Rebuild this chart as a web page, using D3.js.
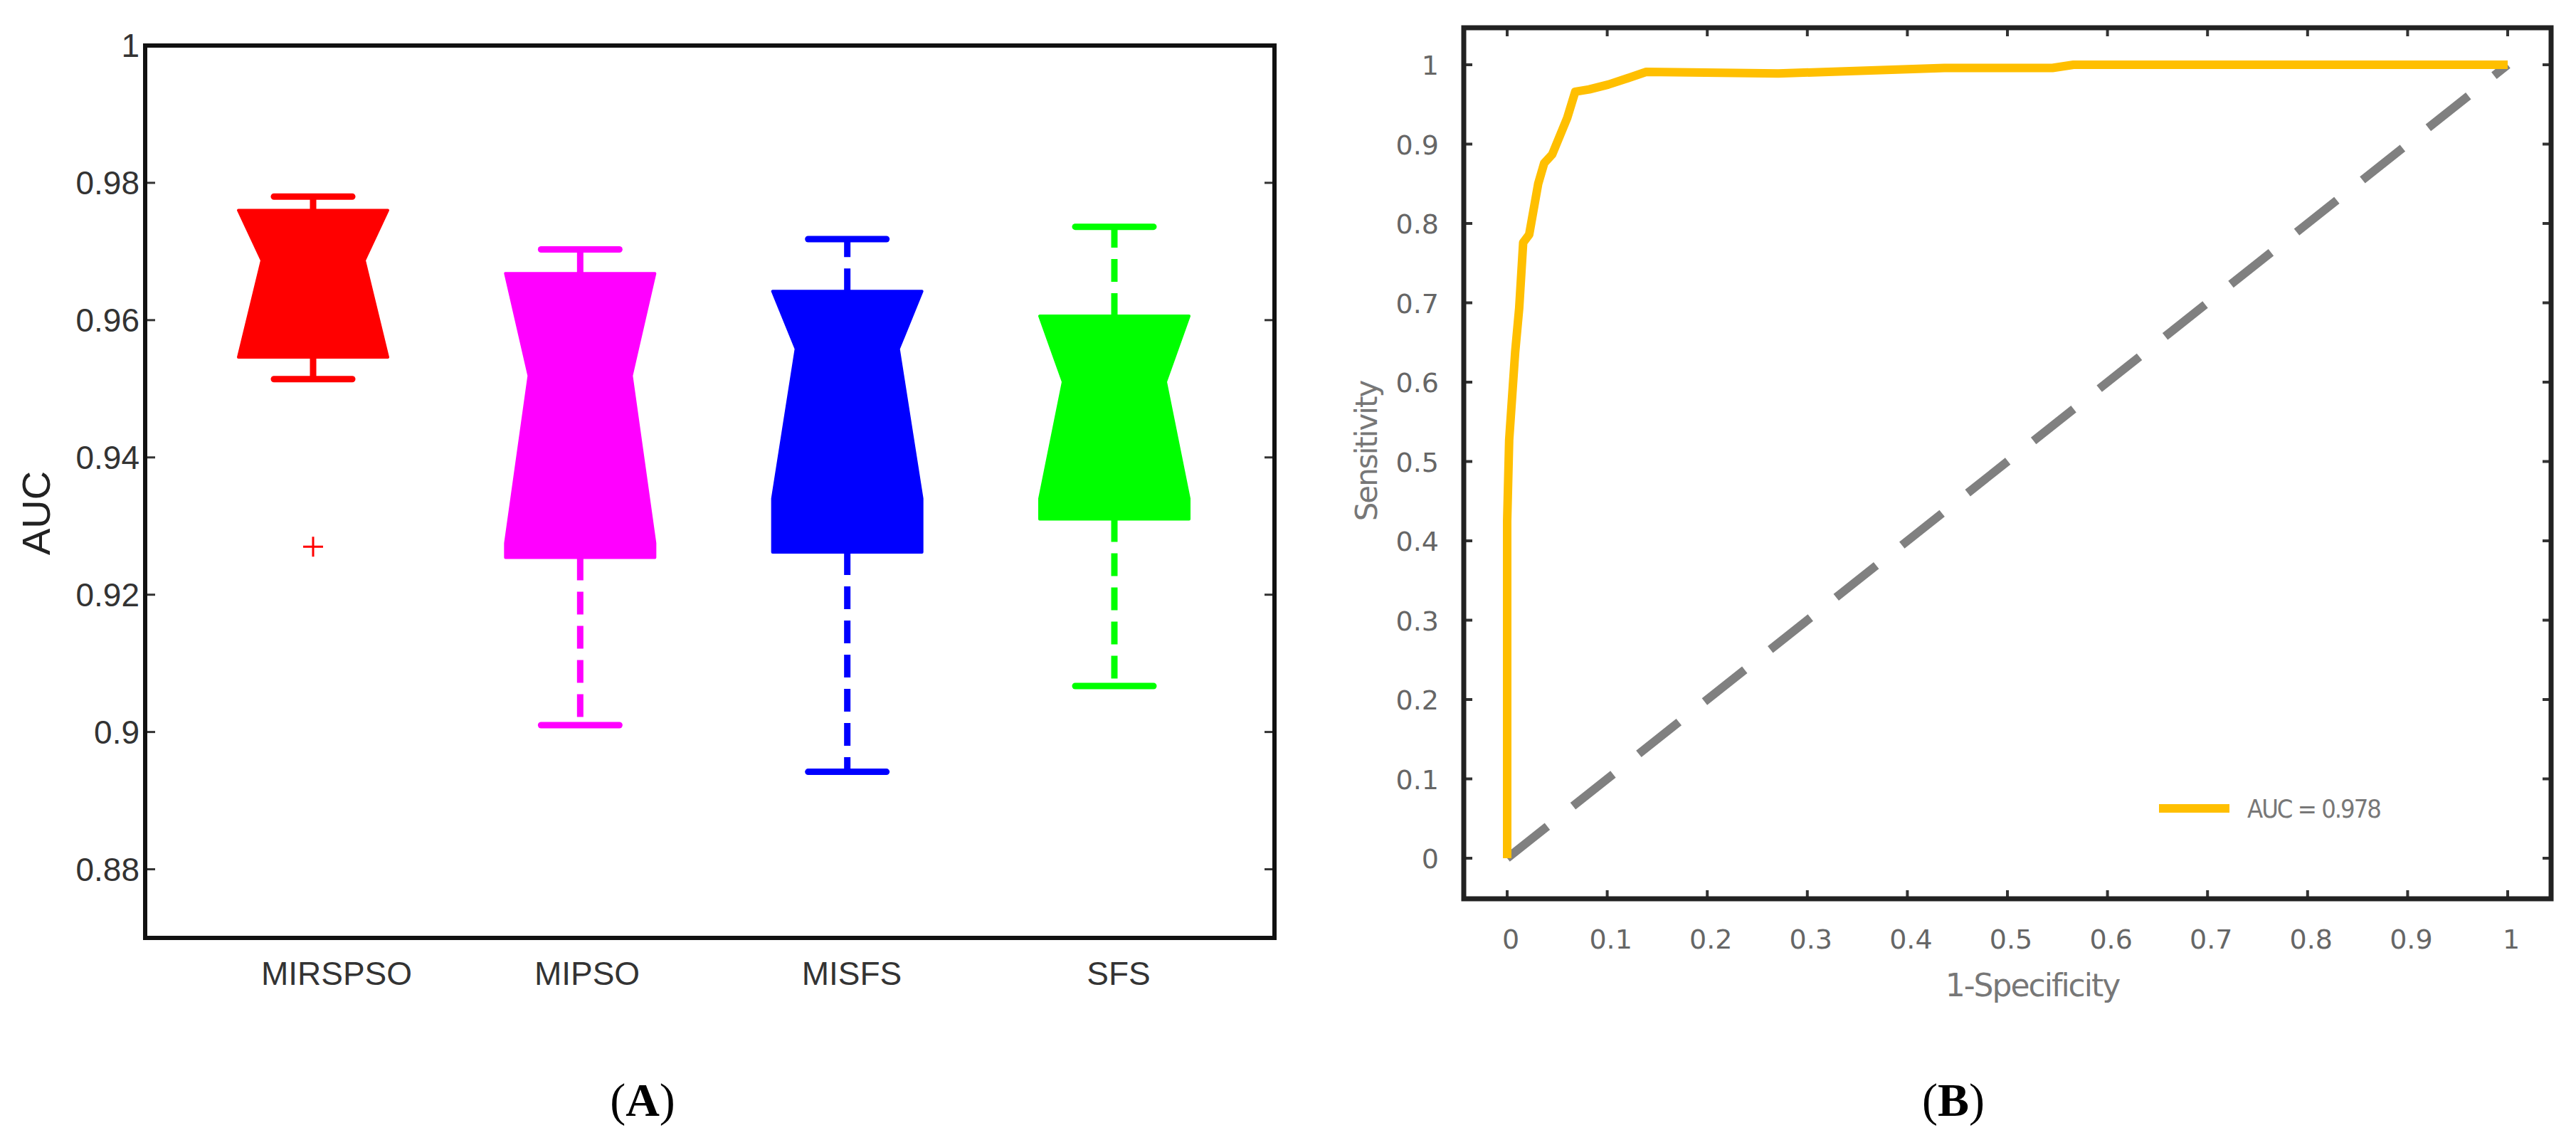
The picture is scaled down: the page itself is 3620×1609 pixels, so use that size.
<!DOCTYPE html>
<html>
<head>
<meta charset="utf-8">
<script src="https://cdn.jsdelivr.net/npm/d3@7"></script>
<style>
  body { margin: 0; background: #fff; }
</style>
</head>
<body>
<div id="plot"></div>
<script>
// panel A: box plot data
const methods = ["MIRSPSO", "MIPSO", "MISFS", "SFS"];
const colors = ["#ff0000", "#ff00ff", "#0000ff", "#00ff00"];
const whiskerHi = [0.978, 0.9703, 0.9718, 0.9736];
const q3 = [0.976, 0.9668, 0.9642, 0.9606];
const medians = [0.9687, 0.9519, 0.9558, 0.951];
const notchLo = [0.9546, 0.9275, 0.934, 0.934];
const q1 = [0.9546, 0.9254, 0.9262, 0.931];
const whiskerLo = [0.9514, 0.901, 0.8942, 0.9067];
const outliers = [[0, 0.927]];
const aTicks = [0.88, 0.9, 0.92, 0.94, 0.96, 0.98, 1];

// panel B: ROC curve
const rocX = [0, 0, 0.002, 0.008, 0.012, 0.016, 0.022, 0.031, 0.037, 0.045, 0.06, 0.068, 0.082, 0.101, 0.118, 0.139, 0.271, 0.437, 0.545, 0.566, 1];
const rocY = [0, 0.425, 0.527, 0.638, 0.693, 0.776, 0.786, 0.85, 0.876, 0.887, 0.933, 0.966, 0.969, 0.975, 0.982, 0.991, 0.989, 0.996, 0.996, 1, 1];
const bTicks = d3.range(0, 11).map(i => i / 10);

const width = 3620, height = 1609;
const svg = d3.select("#plot").append("svg")
    .attr("width", width).attr("height", height);

// ---------- Panel A ----------
const aL = 204, aR = 1791, aT = 64, aB = 1318;
const yA = d3.scaleLinear().domain([0.87, 1]).range([aB, aT]);
const xA = d3.scalePoint().domain(methods).range([440, 1566]);
const xAc = [440, 815, 1197, 1566];

const gA = svg.append("g");
aTicks.forEach(t => {
  gA.append("line").attr("x1", aL).attr("x2", aL + 14).attr("y1", yA(t)).attr("y2", yA(t))
    .attr("stroke", "#333").attr("stroke-width", 3);
  gA.append("line").attr("x1", aR - 14).attr("x2", aR).attr("y1", yA(t)).attr("y2", yA(t))
    .attr("stroke", "#333").attr("stroke-width", 3);
  gA.append("text").attr("x", aL - 8).attr("y", yA(t) + 16)
    .attr("text-anchor", "end").attr("fill", "#333")
    .style("font-family", "Liberation Sans, Arial").style("font-size", "46px")
    .text(t);
});

const hw = 105, nw = 72, cw = 55;
methods.forEach((m, i) => {
  const cx = xA(m), c = colors[i];
  // whiskers
  [[q3[i], whiskerHi[i]], [q1[i], whiskerLo[i]]].forEach(([a, b]) => {
    gA.append("line").attr("x1", cx).attr("x2", cx).attr("y1", yA(a)).attr("y2", yA(b))
      .attr("stroke", c).attr("stroke-width", 9).attr("stroke-dasharray", "32,16");
  });
  [whiskerHi[i], whiskerLo[i]].forEach(v => {
    gA.append("line").attr("x1", cx - cw).attr("x2", cx + cw).attr("y1", yA(v)).attr("y2", yA(v))
      .attr("stroke", c).attr("stroke-width", 9).attr("stroke-linecap", "round");
  });
  // notched box
  const pts = [
    [cx - hw, yA(q3[i])], [cx + hw, yA(q3[i])],
    [cx + nw, yA(medians[i])], [cx + hw, yA(notchLo[i])], [cx + hw, yA(q1[i])],
    [cx - hw, yA(q1[i])], [cx - hw, yA(notchLo[i])], [cx - nw, yA(medians[i])]
  ];
  gA.append("polygon").attr("points", pts.map(p => p.join(",")).join(" "))
    .attr("fill", c).attr("stroke", c).attr("stroke-width", 4).attr("stroke-linejoin", "round");
  gA.append("text").attr("x", xAc[i] + [33, 10, 0, 6][i]).attr("y", 1384)
    .attr("text-anchor", "middle").attr("fill", "#333")
    .style("font-family", "Liberation Sans, Arial").style("font-size", "46px")
    .text(m);
});
outliers.forEach(([i, v]) => {
  const cx = xA(methods[i]);
  gA.append("path").attr("d", `M${cx - 14},${yA(v)}H${cx + 14}M${cx},${yA(v) - 14}V${yA(v) + 14}`)
    .attr("stroke", colors[i]).attr("stroke-width", 3);
});
gA.append("rect").attr("x", aL).attr("y", aT).attr("width", aR - aL).attr("height", aB - aT)
  .attr("fill", "none").attr("stroke", "#111").attr("stroke-width", 6);
gA.append("text").attr("transform", `translate(70,${(aT + aB) / 2 + 30}) rotate(-90)`)
  .attr("text-anchor", "middle").attr("fill", "#222")
  .style("font-family", "Liberation Sans, Arial").style("font-size", "56px").text("AUC");
svg.append("text").attr("x", 903).attr("y", 1568).attr("text-anchor", "middle")
  .style("font-family", "Liberation Serif, Times New Roman").style("font-size", "66px")
  .html('(<tspan font-weight="bold">A</tspan>)');

// ---------- Panel B ----------
const bL = 2057, bR = 3585, bT = 39, bB = 1263;
const xB = d3.scaleLinear().domain([0, 1]).range([2118, 3524]);
const yB = d3.scaleLinear().domain([0, 1]).range([1206, 91]);
const gB = svg.append("g");
bTicks.forEach(t => {
  gB.append("line").attr("x1", bL).attr("x2", bL + 12).attr("y1", yB(t)).attr("y2", yB(t)).attr("stroke", "#333").attr("stroke-width", 4);
  gB.append("line").attr("x1", bR - 12).attr("x2", bR).attr("y1", yB(t)).attr("y2", yB(t)).attr("stroke", "#333").attr("stroke-width", 4);
  gB.append("line").attr("y1", bB).attr("y2", bB - 12).attr("x1", xB(t)).attr("x2", xB(t)).attr("stroke", "#333").attr("stroke-width", 4);
  gB.append("line").attr("y1", bT).attr("y2", bT + 12).attr("x1", xB(t)).attr("x2", xB(t)).attr("stroke", "#333").attr("stroke-width", 4);
  gB.append("text").attr("x", 2022).attr("y", yB(t) + 14).attr("text-anchor", "end").attr("fill", "#666")
    .style("font-family", "DejaVu Sans").style("font-size", "38px").text(t);
  gB.append("text").attr("x", xB(t) + 5).attr("y", 1333).attr("text-anchor", "middle").attr("fill", "#666")
    .style("font-family", "DejaVu Sans").style("font-size", "38px").text(t);
});
gB.append("line").attr("x1", xB(0)).attr("y1", yB(0)).attr("x2", xB(1)).attr("y2", yB(1))
  .attr("stroke", "#808080").attr("stroke-width", 12).attr("stroke-dasharray", "72,46");
const line = d3.line().x(d => xB(d[0])).y(d => yB(d[1]));
gB.append("path").attr("d", line(d3.zip(rocX, rocY)))
  .attr("fill", "none").attr("stroke", "#ffbf00").attr("stroke-width", 12).attr("stroke-linejoin", "round");
gB.append("rect").attr("x", bL).attr("y", bT).attr("width", bR - bL).attr("height", bB - bT)
  .attr("fill", "none").attr("stroke", "#222").attr("stroke-width", 7);
gB.append("line").attr("x1", 3034).attr("x2", 3133).attr("y1", 1136).attr("y2", 1136)
  .attr("stroke", "#ffbf00").attr("stroke-width", 12);
gB.append("text").attr("x", 3158).attr("y", 1149).attr("fill", "#777")
  .style("font-family", "DejaVu Sans Condensed, DejaVu Sans").style("font-size", "36px").attr("letter-spacing", "-2")
  .text("AUC = 0.978");
gB.append("text").attr("transform", `translate(1935,634) rotate(-90)`).attr("text-anchor", "middle").attr("fill", "#777")
  .style("font-family", "DejaVu Sans").style("font-size", "42px").attr("letter-spacing", "-2").text("Sensitivity");
gB.append("text").attr("x", 2856).attr("y", 1400).attr("text-anchor", "middle").attr("fill", "#777")
  .style("font-family", "DejaVu Sans").style("font-size", "44px").attr("letter-spacing", "-2").text("1-Specificity");
svg.append("text").attr("x", 2745).attr("y", 1568).attr("text-anchor", "middle")
  .style("font-family", "Liberation Serif, Times New Roman").style("font-size", "66px")
  .html('(<tspan font-weight="bold">B</tspan>)');
</script>
</body>
</html>
